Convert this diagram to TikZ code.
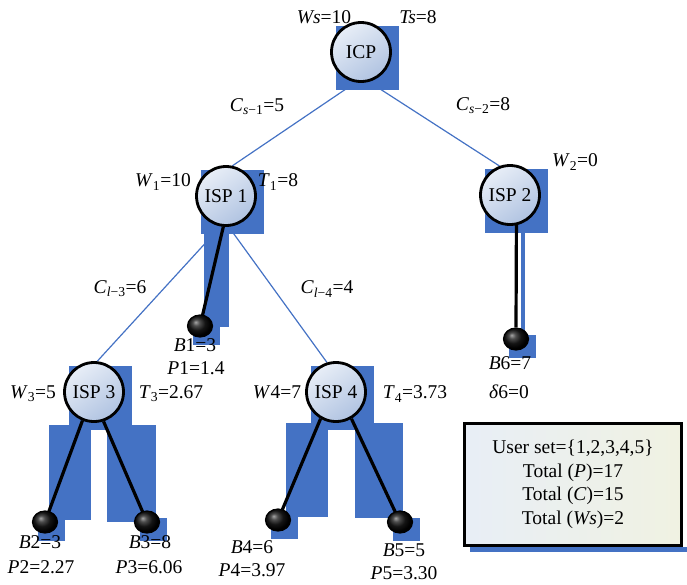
\documentclass[tikz,border=0pt]{standalone}
\usepackage{fontspec}
\setmainfont{Liberation Serif}
\usetikzlibrary{shapes.geometric}
\pgfdeclarelayer{edgesbg}
\pgfdeclarelayer{shadowbg}
\pgfdeclarelayer{stickbg}
\pgfsetlayers{edgesbg,shadowbg,stickbg,main}
\definecolor{shblue}{RGB}{68,114,196}
\definecolor{lineblue}{RGB}{68,114,196}
\definecolor{cirlight}{RGB}{232,238,247}
\definecolor{cirdark}{RGB}{176,195,225}
\definecolor{boxleft}{RGB}{232,238,246}
\definecolor{boxright}{RGB}{240,242,226}
\pgfdeclareradialshading{darkball}{\pgfpoint{-9bp}{9bp}}{%
  color(0bp)=(black!35); color(7bp)=(black!70); color(16bp)=(black!92);
  color(25bp)=(black); color(50bp)=(black)}
\begin{document}
\begin{tikzpicture}[x=1pt,y=-1pt,
  font=\fontsize{19.5}{23.5}\selectfont,
  ispnode/.style={circle, draw=black, line width=2.8pt, minimum size=59pt, inner sep=0pt,
    top color=cirlight, bottom color=cirdark, shading angle=35},
  ballnode/.style={ellipse, draw=black, line width=1.2pt, minimum width=25pt, minimum height=22pt,
    inner sep=0pt, shading=darkball},
  lbl/.style={inner sep=0pt},
  edgeline/.style={lineblue, line width=1.2pt},
  stick/.style={black, line width=3.2pt},
  shadowfill/.style={fill=shblue}
]
\useasboundingbox (0,0) rectangle (687,584);

% main nodes
\node[ispnode] (ICP)  at (361,52)  {ICP};
\node[ispnode] (ISP1) at (226,196) {ISP 1};
\node[ispnode] (ISP2) at (510,195) {ISP 2};
\node[ispnode] (ISP3) at (94,392)  {ISP 3};
\node[ispnode] (ISP4) at (336,392) {ISP 4};

\node[ballnode] (B1) at (200,326) {};
\node[ballnode] (B2) at (45,522)  {};
\node[ballnode] (B3) at (147,522) {};
\node[ballnode] (B4) at (278,520) {};
\node[ballnode] (B5) at (400,522) {};
\node[ballnode] (B6) at (516,339) {};

% labels
\node[lbl] (lWs) at (324,17) {\textit{Ws}=10};
\node[lbl] (lTs) at (418,17) {\textit{Ts}=8};
\node[lbl] (lCs1) at (257,107) {\textit{C}\textsubscript{\textit{s}−1}=5};
\node[lbl] (lCs2) at (483,106) {\textit{C}\textsubscript{\textit{s}−2}=8};
\node[lbl] (lW1) at (163,182) {\textit{W}\textsubscript{1}=10};
\node[lbl] (lT1) at (278,182) {\textit{T}\textsubscript{1}=8};
\node[lbl] (lW2) at (575,162) {\textit{W}\textsubscript{2}=0};
\node[lbl] (lCl3) at (120,289) {\textit{C}\textsubscript{\textit{l}−3}=6};
\node[lbl] (lCl4) at (327,289) {\textit{C}\textsubscript{\textit{l}−4}=4};
\node[lbl] (lB1) at (195,345) {\textit{B}1=3};
\node[lbl] (lP1) at (196,368) {\textit{P}1=1.4};
\node[lbl] (lB6) at (510,363) {\textit{B}6=7};
\node[lbl] (lD6) at (509,392) {\textit{δ}6=0};
\node[lbl] (lW3) at (33,394) {\textit{W}\textsubscript{3}=5};
\node[lbl] (lT3) at (171,394) {\textit{T}\textsubscript{3}=2.67};
\node[lbl] (lW4) at (277,392) {\textit{W}4=7};
\node[lbl] (lT4) at (415,394) {\textit{T}\textsubscript{4}=3.73};
\node[lbl] (lB2) at (40,542) {\textit{B}2=3};
\node[lbl] (lP2) at (41,567) {\textit{P}2=2.27};
\node[lbl] (lB3) at (150,542) {\textit{B}3=8};
\node[lbl] (lP3) at (149,567) {\textit{P}3=6.06};
\node[lbl] (lB4) at (252,547) {\textit{B}4=6};
\node[lbl] (lP4) at (252,570) {\textit{P}4=3.97};
\node[lbl] (lB5) at (404,550) {\textit{B}5=5};
\node[lbl] (lP5) at (404,573) {\textit{P}5=3.30};

% summary box
\node[draw=black, line width=3pt, left color=boxleft, right color=boxright,
  minimum width=217pt, minimum height=122pt, align=center, inner sep=0pt] (sum) at (573,484.5)
  {User set=\{1,2,3,4,5\}\\Total (\textit{P})=17\\Total (\textit{C})=15\\Total (\textit{Ws})=2};

% blue edges
\begin{pgfonlayer}{edgesbg}
\draw[edgeline] (ICP.-100) -- (ISP1.78);
\draw[edgeline] (ICP.-75) -- (ISP2.110);
\draw[edgeline] (ISP1.-100) -- (ISP3.84);
\draw[edgeline] (ISP1.-85) -- (ISP4.107);
\end{pgfonlayer}

% shadows
\begin{pgfonlayer}{shadowbg}
\foreach \n in {ICP,ISP1,ISP2,ISP3,ISP4}
  \fill[shadowfill] (\n.center) ++(-25,-26) rectangle ++(63,64);
\foreach \n in {B1,B2,B3,B4,B5,B6}
  \fill[shadowfill] (\n.center) ++(-7,-4) rectangle ++(27,23);
\fill[shadowfill] (204,233) rectangle (229,327);
\fill[shadowfill] (520.5,229) rectangle (524.5,337);
\fill[shadowfill] (49,425) rectangle (91,520);
\fill[shadowfill] (107,425) rectangle (156,522);
\fill[shadowfill] (286,423) rectangle (328,517);
\fill[shadowfill] (355,423) rectangle (403,518);
\fill[shadowfill] (470,547) rectangle (687,552);
\end{pgfonlayer}

% black sticks
\begin{pgfonlayer}{stickbg}
\draw[stick] (ISP1.-95) -- (B1.center);
\draw[stick] (ISP2.-78) -- (B6.north);
\draw[stick] (ISP3.-112) -- (B2.center);
\draw[stick] (ISP3.-72) -- (B3.center);
\draw[stick] (ISP4.-120) -- (B4.center);
\draw[stick] (ISP4.-60) -- (B5.center);
\end{pgfonlayer}
\end{tikzpicture}
\end{document}
